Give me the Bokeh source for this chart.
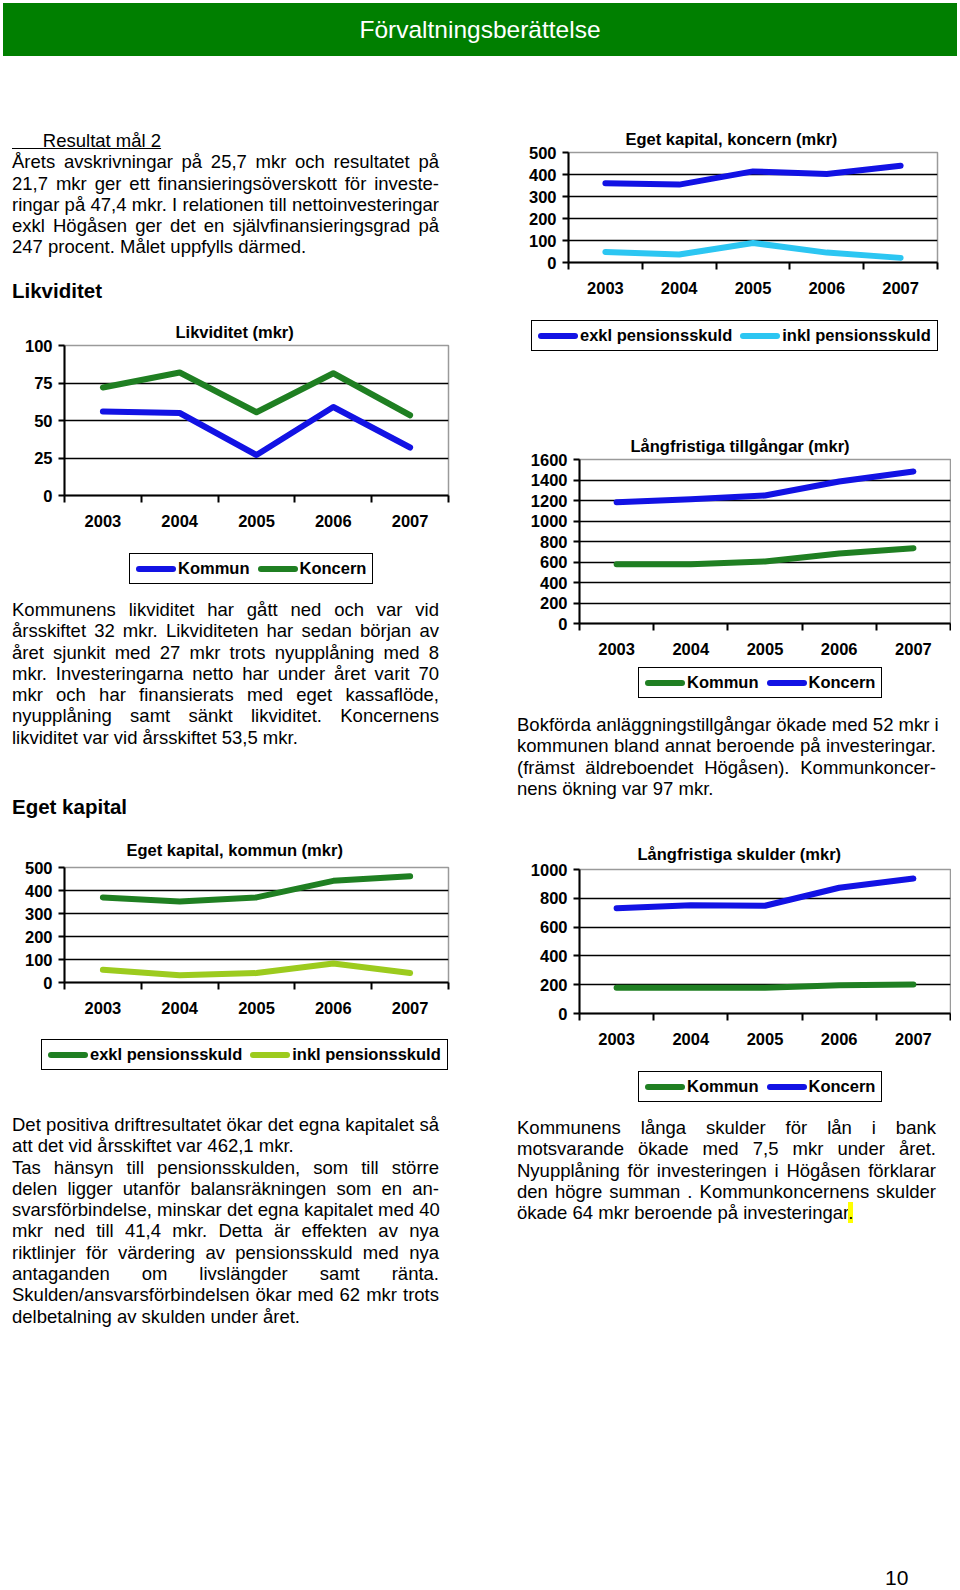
from bokeh.plotting import figure
from bokeh.models import Range1d, FixedTicker, Div, Spacer
from bokeh.layouts import column, row
from bokeh.embed import file_html
from bokeh.resources import INLINE

# ---------------- data ----------------
years = ["2003", "2004", "2005", "2006", "2007"]

likv_names = ["Kommun", "Koncern"]
likv_kommun = [56, 55, 27, 59, 32]
likv_koncern = [72, 82, 55.5, 81.5, 53.5]
likv_ticks = [0, 25, 50, 75, 100]

ekk_names = ["exkl pensionsskuld", "inkl pensionsskuld"]
ekk_exkl = [360, 354, 414, 402, 440]
ekk_inkl = [48, 36, 89, 45, 21]
ekk_ticks = [0, 100, 200, 300, 400, 500]

lt_names = ["Kommun", "Koncern"]
lt_kommun = [579, 579, 605, 683, 735]
lt_koncern = [1184, 1213, 1249, 1385, 1482]
lt_ticks = [0, 200, 400, 600, 800, 1000, 1200, 1400, 1600]

ls_names = ["Kommun", "Koncern"]
ls_kommun = [178, 178, 178, 197, 201]
ls_koncern = [731, 752, 748, 873, 937]
ls_ticks = [0, 200, 400, 600, 800, 1000]

ekm_names = ["exkl pensionsskuld", "inkl pensionsskuld"]
ekm_exkl = [370, 352, 370, 442, 462]
ekm_inkl = [55, 32, 41, 83, 41]
ekm_ticks = [0, 100, 200, 300, 400, 500]

header_text = "Förvaltningsberättelse"
page_number = "10"

text_resultat = [
    ["Resultat mål 2"],
    ["Årets avskrivningar på 25,7 mkr och resultatet på",
     "21,7 mkr ger ett finansieringsöverskott för investe-",
     "ringar på 47,4 mkr. I relationen till nettoinvesteringar",
     "exkl Högåsen ger det en självfinansieringsgrad på",
     "247 procent. Målet uppfylls därmed."],
]
text_likv = [
    ["Kommunens likviditet har gått ned och var vid",
     "årsskiftet 32 mkr. Likviditeten har sedan början av",
     "året sjunkit med 27 mkr trots nyupplåning med 8",
     "mkr. Investeringarna netto har under året varit 70",
     "mkr och har finansierats med eget kassaflöde,",
     "nyupplåning samt sänkt likviditet. Koncernens",
     "likviditet var vid årsskiftet 53,5 mkr."],
]
text_eget = [
    ["Det positiva driftresultatet ökar det egna kapitalet så",
     "att det vid årsskiftet var 462,1 mkr."],
    ["Tas hänsyn till pensionsskulden, som till större",
     "delen ligger utanför balansräkningen som en an-",
     "svarsförbindelse, minskar det egna kapitalet med 40",
     "mkr ned till 41,4 mkr. Detta är effekten av nya",
     "riktlinjer för värdering av pensionsskuld med nya",
     "antaganden om livslängder samt ränta.",
     "Skulden/ansvarsförbindelsen ökar med 62 mkr trots",
     "delbetalning av skulden under året."],
]
text_tillg = [
    ["Bokförda anläggningstillgångar ökade med 52 mkr i",
     "kommunen bland annat beroende på investeringar.",
     "(främst äldreboendet Högåsen). Kommunkoncer-",
     "nens ökning var 97 mkr."],
]
text_skuld = [
    ["Kommunens långa skulder för lån i bank",
     "motsvarande ökade med 7,5 mkr under året.",
     "Nyupplåning för investeringen i Högåsen förklarar",
     "den högre summan . Kommunkoncernens skulder",
     "ökade 64 mkr beroende på investeringar."],
]

# ---------------- styling ----------------
FONT = "Liberation Sans"
CSS_FONT = "'Liberation Sans', Arial, Helvetica, sans-serif"
BLUE = "#1212e4"
GREEN = "#1f7f22"
CYAN = "#2cc6f2"
LIME = "#9ccb1e"


def legend_div(series, width, height, left, top):
    items = []
    for i, (name, vals, color) in enumerate(series):
        gap = "margin-left:8px;" if i > 0 else ""
        items.append('<span style="display:inline-block;width:40px;height:6px;border-radius:3px;'
                     'background:%s;margin-right:2px;%s"></span>' % (color, gap))
        items.append('<span style="font-weight:bold;font-size:16.5px;line-height:19px;">%s</span>'
                     % name)
    html = ('<div style="padding-left:%dpx;padding-top:%dpx;font-family:%s;color:#000;">'
            '<div style="display:inline-flex;align-items:center;box-sizing:border-box;height:31px;'
            'border:1.5px solid #000;padding:0 6px;white-space:nowrap;background:#fff;">%s</div></div>'
            % (left, top, CSS_FONT, "".join(items)))
    return Div(text=html, width=width, height=height, margin=0)


def make_chart(title, ticks, series, width, chart_h, legend_h, borders, title_offset,
               title_standoff, legend_pos):
    bl, br, bt, bb = borders
    n = len(years)
    xs = [i + 0.5 for i in range(n)]
    bounds = list(range(n + 1))
    p = figure(width=width, height=chart_h, output_backend="svg",
               toolbar_location=None, tools="",
               x_range=Range1d(0, n), y_range=Range1d(ticks[0], ticks[-1]),
               min_border_left=bl, min_border_right=br,
               min_border_top=bt, min_border_bottom=bb,
               background_fill_color="white", border_fill_color="white",
               margin=0)
    p.title.text = title
    p.title.align = "left"
    p.title.offset = title_offset
    p.title.standoff = title_standoff
    p.title.text_font = FONT
    p.title.text_font_size = "16.5px"
    p.title.text_font_style = "bold"
    p.title.text_color = "black"

    p.outline_line_color = "#9a9a9a"
    p.outline_line_width = 1.5
    p.xgrid.visible = False
    p.ygrid.ticker = FixedTicker(ticks=ticks[1:-1])
    p.ygrid.grid_line_color = "black"
    p.ygrid.grid_line_width = 1.5

    ya = p.yaxis[0]
    ya.ticker = FixedTicker(ticks=ticks)
    ya.axis_line_color = "black"
    ya.axis_line_width = 2
    ya.major_tick_line_color = "black"
    ya.major_tick_line_width = 2
    ya.major_tick_in = 0
    ya.major_tick_out = 6
    ya.minor_tick_line_color = None
    ya.major_label_standoff = 6
    ya.major_label_text_font = FONT
    ya.major_label_text_font_size = "16.5px"
    ya.major_label_text_font_style = "bold"
    ya.major_label_text_color = "black"

    xa = p.xaxis[0]
    xa.ticker = FixedTicker(ticks=xs, minor_ticks=bounds)
    xa.major_label_overrides = {x: y for x, y in zip(xs, years)}
    xa.axis_line_color = "black"
    xa.axis_line_width = 2
    xa.major_tick_line_color = None
    xa.major_tick_in = 0
    xa.major_tick_out = 7
    xa.minor_tick_line_color = "black"
    xa.minor_tick_line_width = 2
    xa.minor_tick_in = 0
    xa.minor_tick_out = 7
    xa.major_label_standoff = 12
    xa.major_label_text_font = FONT
    xa.major_label_text_font_size = "16.5px"
    xa.major_label_text_font_style = "bold"
    xa.major_label_text_color = "black"

    for name, vals, color in series:
        p.line(xs, vals, line_color=color, line_width=6,
               line_cap="round", line_join="round")

    lg = legend_div(series, width, legend_h, legend_pos[0], legend_pos[1])
    return column(p, lg, spacing=0, margin=0)


def text_div(paragraphs, width, height, pad_left, underline_first=False, highlight_last=False):
    rows = []
    for pi, para in enumerate(paragraphs):
        for li, ln in enumerate(para):
            last = li == len(para) - 1
            content = ln
            if underline_first and pi == 0 and li == 0:
                content = ('<span style="text-decoration:underline;">'
                           + "&nbsp;" * 6 + ln + "</span>")
            if highlight_last and pi == len(paragraphs) - 1 and last:
                content = ln[:-1] + '<span style="background:#ffff00;">' + ln[-1] + "</span>"
            al = "left" if last else "justify"
            rows.append('<div style="white-space:nowrap;text-align:%s;text-align-last:%s;">%s</div>'
                        % (al, al, content))
    html = ('<div style="width:431px;padding-left:%dpx;font-family:%s;font-size:18.5px;'
            'line-height:21.3px;color:#000;">%s</div>' % (pad_left, CSS_FONT, "".join(rows)))
    return Div(text=html, width=width, height=height, margin=0)


def heading_div(txt, width):
    html = ('<div style="padding-left:4px;font-family:%s;font-weight:bold;font-size:20.5px;'
            'line-height:24px;color:#000;white-space:nowrap;">%s</div>' % (CSS_FONT, txt))
    return Div(text=html, width=width, height=24, margin=0)


def sp(h, w=10):
    return Spacer(width=w, height=h, margin=0)


LW = 442
RW = 446

header = Div(text=('<div style="width:954px;height:53px;background:#007f00;color:#ffffff;'
                   'font-family:%s;font-size:24.5px;line-height:53px;text-align:center;">%s</div>'
                   % (CSS_FONT, header_text)), width=954, height=53, margin=0)

chart_likv = make_chart("Likviditet (mkr)", likv_ticks,
                        [(likv_names[0], likv_kommun, BLUE), (likv_names[1], likv_koncern, GREEN)],
                        LW, 237, 54, (56, 2, 42, 45), 111, 10, (121, 13))
chart_ekm = make_chart("Eget kapital, kommun (mkr)", ekm_ticks,
                       [(ekm_names[0], ekm_exkl, GREEN), (ekm_names[1], ekm_inkl, LIME)],
                       LW, 208, 49, (56, 2, 48, 45), 62, 17, (33, 12))
chart_ekk = make_chart("Eget kapital, koncern (mkr)", ekk_ticks,
                       [(ekk_names[0], ekk_exkl, BLUE), (ekk_names[1], ekk_inkl, CYAN)],
                       RW, 197, 49, (63, 14, 42, 45), 57, 10, (26, 13))
chart_lt = make_chart("Långfristiga tillgångar (mkr)", lt_ticks,
                      [(lt_names[0], lt_kommun, GREEN), (lt_names[1], lt_koncern, BLUE)],
                      RW, 246, 40, (74, 1, 42, 40), 51, 10, (133, 4))
chart_ls = make_chart("Långfristiga skulder (mkr)", ls_ticks,
                      [(ls_names[0], ls_kommun, GREEN), (ls_names[1], ls_koncern, BLUE)],
                      RW, 231, 48, (74, 1, 42, 45), 58, 14, (133, 13))

left_col = column(
    sp(74),
    text_div(text_resultat, LW, 128, 4, underline_first=True),
    sp(21),
    heading_div("Likviditet", LW),
    chart_likv,
    sp(5),
    text_div(text_likv, LW, 149, 4),
    sp(47),
    heading_div("Eget kapital", LW),
    chart_ekm,
    sp(38),
    text_div(text_eget, LW, 213, 4),
    spacing=0, margin=0)

right_col = column(
    sp(54),
    chart_ekk,
    sp(61),
    chart_lt,
    sp(11),
    text_div(text_tillg, RW, 86, 12),
    sp(27),
    chart_ls,
    sp(11),
    text_div(text_skuld, RW, 107, 12, highlight_last=True),
    spacing=0, margin=0)

body = row(Spacer(width=8, height=10, margin=0), left_col,
           Spacer(width=55, height=10, margin=0), right_col, spacing=0, margin=0)

pnum = Div(text=('<div style="padding-left:877px;font-family:%s;font-size:21px;line-height:14px;'
                 'color:#000;">%s</div>' % (CSS_FONT, page_number)), width=944, height=14, margin=0)

page = column(sp(3),
              row(Spacer(width=3, height=10, margin=0), header, spacing=0, margin=0),
              body, sp(244),
              row(Spacer(width=8, height=10, margin=0), pnum, spacing=0, margin=0),
              spacing=0, margin=0)

open("out.html", "w").write(file_html(page, INLINE))
